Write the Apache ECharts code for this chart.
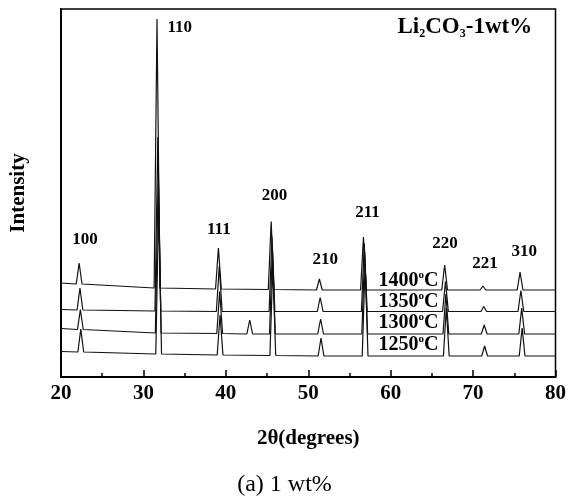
<!DOCTYPE html>
<html>
<head>
<meta charset="utf-8">
<style>
  html, body { margin: 0; padding: 0; background: #fff; }
  #chart { width: 569px; height: 497px; }
</style>
<script src="https://cdn.jsdelivr.net/npm/echarts@6/dist/echarts.min.js"></script>
</head>
<body>
<div id="chart"></div>
<script>
// XRD patterns of Li2CO3-1wt% samples sintered at four temperatures.
// Intensities are in arbitrary units; each pattern is stacked on its own baseline.

const hkl = ['100', '110', '111', '200', '210', '211', '220', '221', '310'];

// Peak positions (2θ, degrees) for each sintering temperature
const pos1400 = [22.20, 31.65, 39.10, 45.50, 51.35, 56.70, 66.55, 71.20, 75.70];
const pos1350 = [22.30, 31.75, 39.20, 45.60, 51.45, 56.80, 66.65, 71.30, 75.80];
const pos1300 = [22.35, 31.80, 39.25, 45.65, 51.50, 56.85, 66.70, 71.35, 75.90];
const pos1250 = [22.40, 31.85, 39.30, 45.70, 51.55, 56.90, 66.75, 71.40, 75.95];

// Background level under each peak (stacked offset included)
const base1400 = [93.0, 89.0, 88.0, 87.5, 87.0, 87.0, 87.0, 87.0, 87.0];
const base1350 = [67.0, 66.0, 65.5, 65.5, 65.5, 65.5, 65.5, 65.5, 65.5];
const base1300 = [47.5, 44.0, 43.5, 43.0, 43.0, 43.0, 43.0, 43.0, 43.0];
const base1250 = [25.0, 23.0, 22.0, 21.5, 21.0, 21.0, 21.0, 21.0, 21.0];

// Background at the scan ends (20° and 80°)
const ends1400 = [94.0, 87.0];
const ends1350 = [67.5, 65.5];
const ends1300 = [48.5, 43.0];
const ends1250 = [25.5, 21.0];

// Peak heights above background
const peak1400 = [21, 269, 41, 68, 11, 53, 25, 4, 18];
const peak1350 = [22, 174, 45, 75, 14, 68, 30, 5, 21];
const peak1300 = [20, 160, 42, 85, 15, 82, 40, 9, 26];
const peak1250 = [23, 148, 40, 90, 18, 92, 48, 10, 28];

// Weak extra reflection seen only at 1300 °C: [2θ, background, height]
const extra1300 = [42.90, 43.0, 14];

// Peak index labels: [2θ, intensity]
const hklLabelPos = [
  [22.9, 137], [34.4, 349], [39.15, 147], [45.9, 181], [52.05, 117],
  [57.2, 164], [66.6, 133], [71.45, 113], [76.2, 125]
];

const temps = ['1400', '1350', '1300', '1250'];
const tempLabelPos = [[62.15, 96], [62.15, 75], [62.15, 54], [62.15, 32]];

const SERIF = 'Liberation Serif, Times New Roman, serif';
const HALF_WIDTH = 0.35;   // half base width of a reflection, degrees

function pattern(pos, base, ends, heights, extra) {
  const peaks = pos.map((p, i) => [p, base[i], heights[i]]);
  if (extra) peaks.push(extra);
  peaks.sort((a, b) => a[0] - b[0]);
  const pts = [[20, ends[0]]];
  peaks.forEach(([p, b, h]) => {
    pts.push([p - HALF_WIDTH, b], [p, b + h], [p + HALF_WIDTH, b]);
  });
  pts.push([80, ends[1]]);
  return pts;
}

const curves = [
  pattern(pos1400, base1400, ends1400, peak1400),
  pattern(pos1350, base1350, ends1350, peak1350),
  pattern(pos1300, base1300, ends1300, peak1300, extra1300),
  pattern(pos1250, base1250, ends1250, peak1250)
];

const chart = echarts.init(document.getElementById('chart'), null, { renderer: 'canvas' });

const lineSeries = curves.map((d, i) => ({
  name: temps[i] + '°C',
  type: 'line',
  data: d,
  showSymbol: false,
  symbol: 'none',
  silent: true,
  lineStyle: { color: '#111', width: 1.2 },
  z: 3
}));

// shared settings for text-only scatter layers
const textLayer = {
  type: 'scatter', silent: true, symbolSize: 0, z: 5,
  itemStyle: { opacity: 1, color: '#000' },
  emphasis: { disabled: true }
};

chart.setOption({
  animation: false,
  backgroundColor: '#fff',
  grid: {
    left: 61, right: 12, top: 9, bottom: 120,
    show: true, borderColor: '#000', borderWidth: 1.5, backgroundColor: 'transparent'
  },
  xAxis: {
    type: 'value', min: 20, max: 80, interval: 10,
    name: '2θ(degrees)', nameLocation: 'middle', nameGap: 51,
    nameTextStyle: { fontFamily: SERIF, fontWeight: 'bold', fontSize: 21, color: '#000' },
    axisLine: { lineStyle: { color: '#000', width: 2 } },
    axisTick: { inside: true, length: 7, lineStyle: { color: '#000', width: 1.5 } },
    minorTick: { show: true, splitNumber: 2, length: 4, lineStyle: { color: '#000', width: 1.5 } },
    axisLabel: { fontFamily: SERIF, fontWeight: 'bold', fontSize: 21, color: '#000', margin: 6 },
    splitLine: { show: false }
  },
  yAxis: {
    type: 'value', min: 0, max: 368,
    name: 'Intensity', nameLocation: 'middle', nameGap: 32, nameRotate: 90,
    nameTextStyle: { fontFamily: SERIF, fontWeight: 'bold', fontSize: 21, color: '#000' },
    axisLine: { show: true, lineStyle: { color: '#000', width: 2 } },
    axisTick: { show: false },
    axisLabel: { show: false },
    splitLine: { show: false }
  },
  series: lineSeries.concat([
    Object.assign({}, textLayer, {
      data: hklLabelPos.map((p, i) => ({ value: p, name: hkl[i] })),
      label: {
        show: true, position: 'inside', formatter: '{b}', opacity: 1,
        textBorderWidth: 0,
        fontFamily: SERIF, fontWeight: 'bold', fontSize: 17, color: '#000'
      }
    }),
    Object.assign({}, textLayer, {
      data: tempLabelPos.map((p, i) => ({ value: p, name: temps[i] })),
      label: {
        show: true, position: 'inside', opacity: 1, textBorderWidth: 0,
        formatter: p => '{n|' + p.name + '}{s|o}{n|C}',
        rich: {
          n: { fontFamily: SERIF, fontWeight: 'bold', fontSize: 20, color: '#000' },
          s: { fontFamily: SERIF, fontWeight: 'bold', fontSize: 11, color: '#000', padding: [0, 0, 11, 0] }
        }
      }
    }),
    Object.assign({}, textLayer, {
      data: [{ value: [69.0, 350], name: 'Li2CO3-1wt%' }],
      label: {
        show: true, position: 'inside', opacity: 1, textBorderWidth: 0,
        formatter: '{n|Li}{b|2}{n|CO}{b|3}{n|-1wt%}',
        rich: {
          n: { fontFamily: SERIF, fontWeight: 'bold', fontSize: 23, color: '#000' },
          b: { fontFamily: SERIF, fontWeight: 'bold', fontSize: 12, color: '#000', padding: [13, 0, 0, 0] }
        }
      }
    })
  ]),
  graphic: [
    {
      type: 'text', left: 'center', top: 473,
      style: { text: '(a) 1 wt%', font: '24px ' + SERIF, fill: '#000' }
    }
  ]
});
</script>
</body>
</html>
